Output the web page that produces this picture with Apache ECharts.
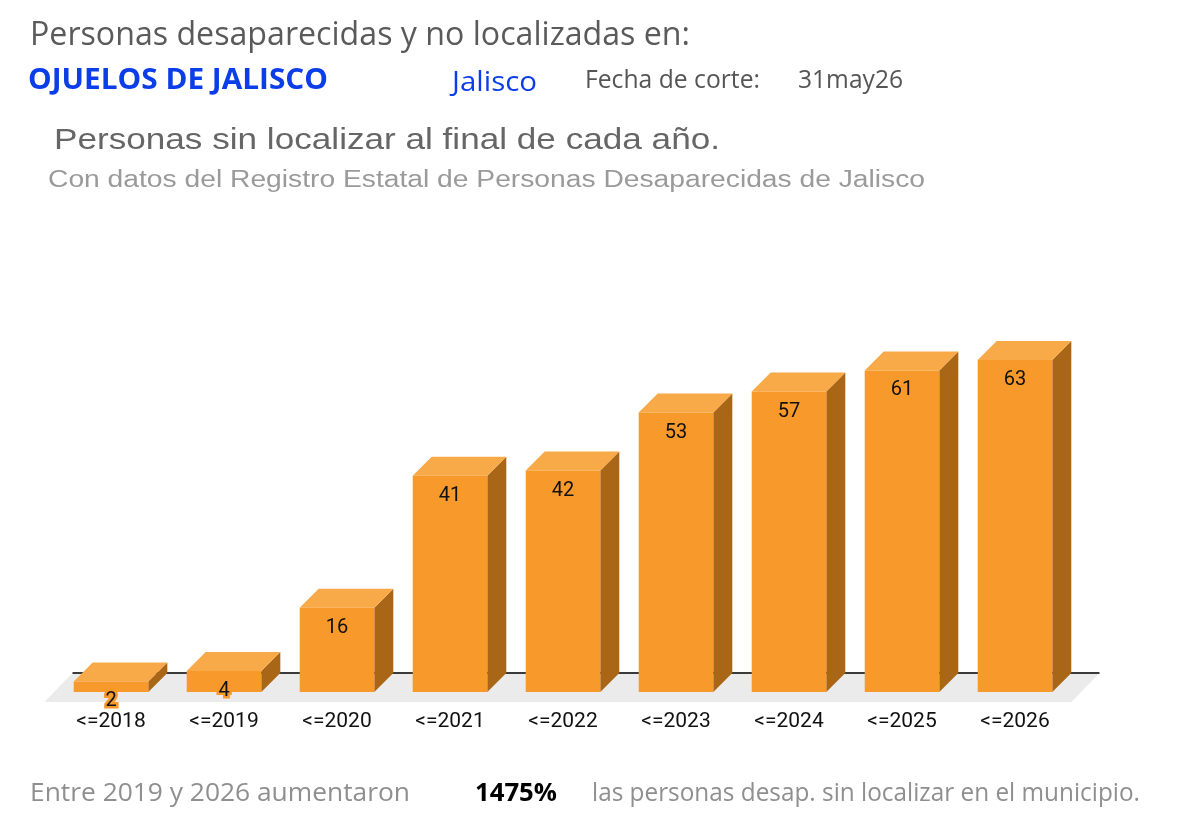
<!DOCTYPE html>
<html>
<head>
<meta charset="utf-8">
<script src="https://cdn.jsdelivr.net/npm/echarts@6/dist/echarts.min.js"></script>
<style>
  html, body { margin: 0; padding: 0; background: #fff; }
  #chart { width: 1200px; height: 821px; }
</style>
</head>
<body>
<div id="chart"></div>
<script>
// datos: personas sin localizar al final de cada año
var years = ['<=2018', '<=2019', '<=2020', '<=2021', '<=2022', '<=2023', '<=2024', '<=2025', '<=2026'];
var sinLocalizar = [2, 4, 16, 41, 42, 53, 57, 61, 63];

var municipio = 'OJUELOS DE JALISCO';
var estado = 'Jalisco';
var fechaCorte = '31may26';
var aumento = '1475%';

var colFront = '#F7992B';
var colTop = '#F9AA48';
var colSide = '#A86616';
var sans = "'Open Sans', sans-serif";
var arial = "'Liberation Sans', Arial, sans-serif";

var chart = echarts.init(document.getElementById('chart'), null, { renderer: 'canvas' });

var barData = [];
for (var i = 0; i < years.length; i++) {
  barData.push([i, sinLocalizar[i]]);
}

// texto horizontal ajustado al ancho que ocupa en el original
var measureCtx = document.createElement('canvas').getContext('2d');
function fitText(txt, font, color, x0, x1, yMid) {
  measureCtx.font = font;
  var w = measureCtx.measureText(txt).width;
  return {
    type: 'text', x: x0, y: yMid, scaleX: (x1 - x0) / w, originX: 0, originY: 0,
    style: { text: txt, fill: color, font: font, align: 'left', verticalAlign: 'middle' }
  };
}

function renderBar(params, api) {
  var idx = api.value(0);
  var val = api.value(1);
  var base = api.coord([idx, 0]);
  var top = api.coord([idx, val]);
  var band = api.size([1, 0])[0];
  var w = band * 0.66;
  var d = 19;
  var x0 = base[0] - w / 2;
  var by = base[1];
  var ty = top[1];
  return {
    type: 'group',
    children: [
      { type: 'polygon', shape: { points: [[x0 + w, ty], [x0 + w + d, ty - d], [x0 + w + d, by - d], [x0 + w, by]] }, style: { fill: colSide } },
      { type: 'polygon', shape: { points: [[x0, ty], [x0 + d, ty - d], [x0 + w + d, ty - d], [x0 + w, ty]] }, style: { fill: colTop } },
      { type: 'rect', shape: { x: x0, y: ty, width: w, height: by - ty }, style: { fill: colFront } },
      { type: 'text', x: base[0], y: ty + 20, style: {
          text: String(val), fill: '#111', font: '20px Roboto, sans-serif',
          align: 'center', verticalAlign: 'middle', stroke: colFront, lineWidth: 5
        }, z2: 10 }
    ]
  };
}

function renderFloor(params, api) {
  var n = years.length;
  var band = api.size([1, 0])[0];
  var first = api.coord([0, 0]);
  var last = api.coord([n - 1, 0]);
  var L = first[0] - band / 2;
  var R = last[0] + band / 2;
  var y = first[1];
  return {
    type: 'group',
    children: [
      { type: 'polygon', shape: { points: [[L - 10, y + 10], [R, y + 10], [R + 28, y - 19], [L + 18, y - 19]] }, style: { fill: '#EBEBEB' } },
      { type: 'line', shape: { x1: L + 18, y1: y - 19, x2: R + 28, y2: y - 19 }, style: { stroke: '#3a3a3a', lineWidth: 2 } }
    ]
  };
}

var option = {
  backgroundColor: '#fff',
  animation: false,
  grid: { left: 54.5, right: 128.5, top: 323, bottom: 129, containLabel: false },
  xAxis: {
    type: 'category',
    data: years,
    axisLine: { show: false },
    axisTick: { show: false },
    axisLabel: { color: '#111', fontSize: 21, fontFamily: 'Roboto, sans-serif', margin: 19 }
  },
  yAxis: { type: 'value', min: 0, max: 70, show: false, splitLine: { show: false } },
  series: [
    { type: 'custom', name: 'piso', renderItem: renderFloor, data: [[0, 0]], z: 1, silent: true },
    { type: 'custom', name: 'Personas sin localizar', renderItem: renderBar, data: barData, z: 2,
      encode: { x: 0, y: 1 } }
  ],
  graphic: [
    fitText('Personas desaparecidas y no localizadas en:', '32px ' + sans, '#5a5a5a', 30, 690, 36),
    fitText(municipio, 'bold 29px ' + sans, '#0B3DE8', 28, 328, 81),
    fitText(estado, '28px ' + sans, '#0B3DE8', 452, 537, 83),
    fitText('Fecha de corte:', '25px ' + sans, '#555', 585, 760, 81),
    fitText(fechaCorte, '25px ' + sans, '#555', 798, 903, 81),
    fitText('Personas sin localizar al final de cada año.', '30px ' + arial, '#666', 54, 720, 141),
    fitText('Con datos del Registro Estatal de Personas Desaparecidas de Jalisco', '23px ' + arial, '#9a9a9a', 48, 925, 181),
    fitText('Entre 2019 y 2026 aumentaron', '25px ' + sans, '#8f8f8f', 30, 410, 794),
    fitText(aumento, 'bold 25px ' + sans, '#000', 475, 557, 794),
    fitText('las personas desap. sin localizar en el municipio.', '25px ' + sans, '#8f8f8f', 592, 1140, 794)
  ]
};

chart.setOption(option);
window.addEventListener('resize', chart.resize);
</script>
</body>
</html>
